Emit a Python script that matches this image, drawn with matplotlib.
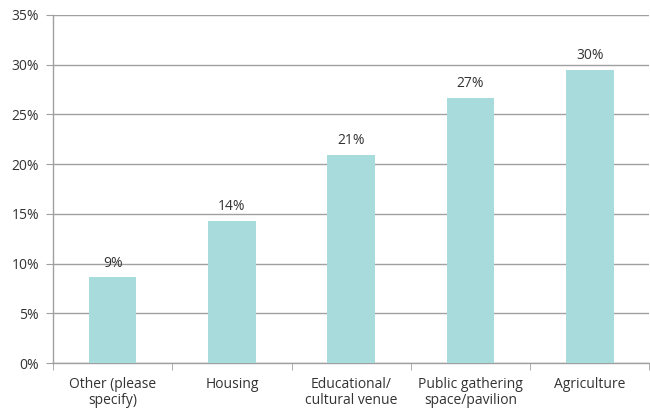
import matplotlib.pyplot as plt
import numpy as np

categories = ["Other (please\nspecify)", "Housing", "Educational/\ncultural venue",
              "Public gathering\nspace/pavilion", "Agriculture"]
values = [8.6, 14.3, 20.9, 26.7, 29.5]
yticks = [0, 5, 10, 15, 20, 25, 30, 35]

plt.rcParams['font.family'] = ['Open Sans', 'DejaVu Sans']
plt.rcParams['font.size'] = 10

grey = "#a0a0a0"
text_col = "#333333"

fig = plt.figure(figsize=(6.5, 4.15), dpi=100)
ax = fig.add_axes([0.0815, 0.1253, 0.9175, 0.8386])

x = np.arange(len(categories))
ax.bar(x, values, width=0.4, color="#a8dcdc", zorder=3)
for xi, v in zip(x, values):
    ax.text(xi, v + 0.7, f"{v:.0f}%", ha="center", va="bottom", color=text_col)

ax.set_xlim(-0.5, len(categories) - 0.5)
ax.set_ylim(0, 35)
ax.set_yticks(yticks)
ax.set_yticklabels([f"{t}%" for t in yticks], color=text_col)
ax.yaxis.grid(True, color=grey, linewidth=1.0, zorder=0)

# categories sit between the tick marks
ax.set_xticks(x)
ax.set_xticklabels(categories, color=text_col, linespacing=1.1)
ax.set_xticks(np.arange(len(categories) + 1) - 0.5, minor=True)
ax.tick_params(axis="x", which="major", length=0, pad=10)
ax.tick_params(axis="x", which="minor", length=5, color=grey, direction="out")
ax.tick_params(axis="y", length=5, color=grey, pad=5)

for side in ["top", "right"]:
    ax.spines[side].set_visible(False)
for side in ["left", "bottom"]:
    ax.spines[side].set_color(grey)
    ax.spines[side].set_linewidth(1.0)

fig.savefig("out.png", dpi=100)
